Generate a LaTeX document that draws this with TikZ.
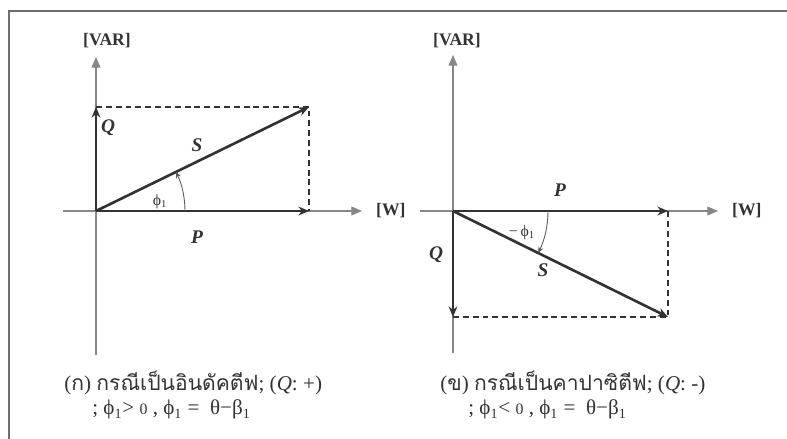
\documentclass[tikz,border=0pt]{standalone}
\usepackage{fontspec}
\setmainfont{Liberation Serif}
\newfontfamily\thaifont[Script=Thai]{Loma}
\usetikzlibrary{arrows.meta,positioning}
\definecolor{ink}{RGB}{50,50,50}
\definecolor{axisgray}{RGB}{135,135,135}
\definecolor{framegray}{RGB}{110,110,110}

\begin{document}
\begin{tikzpicture}[x=0.2mm,y=0.2mm,
  axisline/.style={axisgray,line width=0.6pt,-{Triangle[length=6pt,width=5pt]}},
  vec/.style={ink,line width=1.5pt,-{Stealth[length=6pt,width=5pt]}},
  dashline/.style={ink,line width=1.1pt,dash pattern=on 3.4pt off 2.2pt},
  anglearc/.style={ink!80,line width=0.5pt,-{Stealth[length=3.5pt,width=3pt]}},
  vlabel/.style={font=\fontsize{11}{12}\selectfont\bfseries\itshape,text=ink},
  unitlabel/.style={font=\fontsize{10}{12}\selectfont\bfseries,text=ink},
  caption/.style={anchor=west,align=left,inner sep=0pt,font=\fontsize{12}{14.2}\selectfont,text=ink}]
\useasboundingbox (0,0) rectangle (787,439);
% frame
\draw[framegray,line width=1pt] (9,-5) -- (9,428) -- (795,428);

% (a) inductive
\coordinate (o1) at (96,228);
\coordinate (w1s) at (63,228);
\coordinate (w1) at (362,228);
\coordinate (var1s) at (96,84);
\coordinate (var1) at (96,382);
\coordinate (q1) at (96,332);
\coordinate (p1) at (309,228);
\coordinate (s1) at (309,332);
\draw[axisline] (w1s) -- (w1);
\draw[axisline] (var1s) -- (var1);
\node[unitlabel,right=1.6mm of w1] (wlab1) {[W]};
\node[unitlabel] (varlab1) at (107,398) {[VAR]};
\draw[dashline] (q1) -- (s1) -- (p1);
\draw[vec] (o1) -- (q1);
\draw[vec] (o1) -- (p1);
\draw[vec] (o1) -- (s1);
\draw[anglearc] ([shift={(0:17.8mm)}]o1) arc[start angle=0,end angle=26.1,radius=17.8mm];
\node[vlabel] (qlab1) at (108,311) {Q};
\node[vlabel] (slab1) at (197,294) {S};
\node[vlabel] (plab1) at (197,202) {P};
\node[text=ink,font=\fontsize{9}{10}\selectfont] (philab1) at (160,237) {ϕ\textsubscript{1}};

% (b) capacitive
\coordinate (o2) at (453,228);
\coordinate (w2s) at (420,228);
\coordinate (w2) at (718,228);
\coordinate (var2s) at (453,86);
\coordinate (var2) at (453,384);
\coordinate (q2) at (453,122);
\coordinate (p2) at (668,228);
\coordinate (s2) at (668,122);
\draw[axisline] (w2s) -- (w2);
\draw[axisline] (var2s) -- (var2);
\node[unitlabel,right=1.6mm of w2] (wlab2) {[W]};
\node[unitlabel] (varlab2) at (457,398) {[VAR]};
\draw[dashline] (q2) -- (s2) -- (p2);
\draw[vec] (o2) -- (q2);
\draw[vec] (o2) -- (p2);
\draw[vec] (o2) -- (s2);
\draw[anglearc] ([shift={(0:19mm)}]o2) arc[start angle=0,end angle=-26.2,radius=19mm];
\node[vlabel] (qlab2) at (436,184) {Q};
\node[vlabel] (slab2) at (543,169) {S};
\node[vlabel] (plab2) at (560,249) {P};
\node[text=ink,font=\fontsize{9}{10}\selectfont] (philab2) at (522,206) {−\,ϕ\textsubscript{1}};

% captions
\node[caption] (cap1) at (64,44) {({\thaifont ก}) {\thaifont กรณีเป็นอินดัคตีฟ}; (\textit{Q}: +)\\
  \hspace*{5.6mm}; ϕ\textsubscript{1}> {\small 0} , ϕ\textsubscript{1} =\ \ θ−β\textsubscript{1}};
\node[caption] (cap2) at (440,44) {({\thaifont ข}) {\thaifont กรณีเป็นคาปาซิตีฟ}; (\textit{Q}: -)\\
  \hspace*{5.6mm}; ϕ\textsubscript{1}< {\small 0} , ϕ\textsubscript{1} =\ \ θ−β\textsubscript{1}};
\end{tikzpicture}
\end{document}
